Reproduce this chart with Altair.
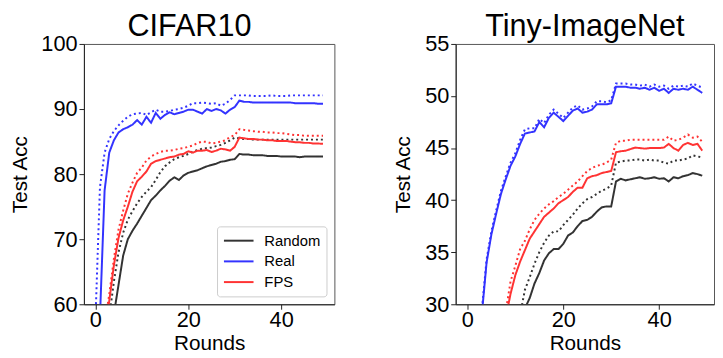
import altair as alt
import pandas as pd

rounds = list(range(50))

# CIFAR10
cifar_random = [35, 42, 48, 54, 58.5, 63.0, 67.5, 70.0, 71.3, 72.4,
                73.6, 74.8, 76.0, 76.7, 77.5, 78.2, 79.0, 79.5, 79.1, 79.8,
                80.2, 80.4, 80.6, 80.9, 81.2, 81.4, 81.6, 81.9, 82.0, 82.2,
                82.3, 83.1, 83.0, 83.0, 82.9, 82.9, 82.9, 82.8, 82.8, 82.8,
                82.7, 82.7, 82.7, 82.7, 82.6, 82.7, 82.7, 82.7, 82.7, 82.7]
cifar_random_dot = [38, 45, 52, 58.0, 63.5, 68.0, 71.0, 73.0, 74.3, 75.5,
                    76.5, 77.3, 78.0, 79.1, 80.3, 81.2, 81.8, 82.3, 82.6, 82.8,
                    83.1, 83.5, 83.7, 83.9, 84.0, 84.1, 84.3, 84.5, 84.8, 85.2,
                    85.6, 85.5, 85.4, 85.4, 85.3, 85.3, 85.3, 85.3, 85.3, 85.3,
                    85.3, 85.3, 85.3, 85.3, 85.3, 85.3, 85.3, 85.3, 85.3, 85.3]
cifar_real = [45, 58, 77.5, 83.3, 85.2, 86.4, 86.9, 87.2, 87.6, 88.3,
              87.6, 88.8, 87.9, 89.4, 88.5, 89.1, 89.5, 89.2, 89.4, 89.6,
              89.9, 89.9, 89.6, 89.3, 90.0, 89.7, 90.0, 89.8, 89.3, 89.9,
              90.3, 91.3, 91.1, 91.1, 91.0, 91.0, 91.0, 91.0, 91.0, 91.0,
              91.0, 91.0, 91.0, 90.9, 90.9, 90.9, 90.9, 90.9, 90.8, 90.8]
cifar_real_dot = [57, 78, 83.3, 85.4, 86.6, 87.5, 88.2, 88.8, 89.2, 89.3,
                  89.4, 89.1, 89.5, 89.9, 89.6, 89.6, 89.7, 89.9, 90.0, 90.2,
                  90.5, 90.9, 90.9, 91.0, 90.9, 90.8, 90.9, 90.5, 90.8, 91.4,
                  92.1, 92.1, 92.1, 92.1, 92.0, 92.0, 92.0, 92.0, 92.1, 92.0,
                  92.0, 92.0, 92.1, 92.1, 92.1, 92.1, 92.1, 92.1, 92.1, 92.1]
cifar_fps = [40, 48, 55, 60.5, 66.0, 70.2, 72.9, 75.0, 77.3, 78.9,
             79.6, 80.4, 81.6, 82.0, 82.2, 82.4, 82.6, 82.7, 83.0, 83.1,
             83.5, 83.3, 83.6, 83.6, 83.7, 83.4, 83.6, 83.9, 83.8, 83.6,
             84.2, 85.6, 85.5, 85.4, 85.4, 85.3, 85.3, 85.2, 85.2, 85.1,
             85.1, 85.1, 85.0, 84.9, 84.9, 84.8, 84.8, 84.7, 84.7, 84.65]
cifar_fps_dot = [42, 50, 57, 61.5, 67.0, 71.5, 74.4, 77.0, 78.7, 80.2,
                 81.0, 82.1, 82.7, 83.1, 83.4, 83.6, 83.6, 83.7, 83.9, 84.0,
                 84.2, 84.4, 84.8, 85.0, 84.95, 84.7, 84.8, 85.0, 85.2, 85.7,
                 86.0, 86.9, 86.8, 86.7, 86.6, 86.5, 86.5, 86.4, 86.4, 86.3,
                 86.3, 86.2, 86.1, 86.0, 86.0, 85.9, 85.9, 85.9, 85.9, 85.9]

# Tiny-ImageNet
tiny_random = [12, 14, 16, 18, 20, 22, 24, 25.5, 26.5, 27.3,
               28.0, 28.8, 29.6, 30.6, 32.0, 33.0, 34.2, 34.9, 35.3, 35.3,
               35.8, 36.6, 36.9, 37.5, 38.0, 38.1, 38.4, 38.9, 39.3, 39.4,
               39.4, 41.8, 42.05, 41.9, 42.0, 42.1, 42.2, 42.05, 42.1, 42.2,
               42.05, 42.1, 41.8, 42.2, 42.1, 42.3, 42.4, 42.6, 42.5, 42.35]
tiny_random_dot = [14, 16, 18, 20, 22, 24, 25.5, 26.5, 27.5, 28.0,
                   28.3, 29.0, 31.4, 32.6, 33.9, 35.0, 35.9, 36.6, 37.0, 37.0,
                   37.6, 38.1, 38.6, 39.2, 39.7, 40.1, 40.3, 40.6, 40.9, 41.1,
                   41.4, 43.6, 43.7, 43.8, 43.8, 43.9, 43.9, 43.8, 43.9, 43.8,
                   43.8, 43.6, 43.5, 43.8, 43.8, 43.9, 44.0, 44.3, 44.2, 44.1]
tiny_real = [20, 23, 26, 29.0, 34.0, 36.7, 38.7, 40.6, 42.0, 43.3,
             44.2, 45.4, 46.4, 46.5, 46.6, 47.5, 47.0, 47.9, 48.4, 48.0,
             47.6, 48.1, 48.6, 48.8, 48.4, 48.5, 48.7, 49.2, 49.2, 49.2,
             49.3, 50.9, 50.9, 50.9, 50.8, 50.8, 50.7, 50.8, 50.6, 50.8,
             50.5, 50.7, 50.3, 50.7, 50.6, 50.7, 50.6, 50.9, 50.6, 50.3]
tiny_real_dot = [20.3, 23.3, 26.3, 29.4, 34.3, 37.0, 39.0, 40.9, 42.3, 43.6,
                 44.5, 45.8, 46.8, 46.9, 46.9, 47.8, 47.4, 48.2, 48.7, 48.3,
                 47.9, 48.4, 48.9, 49.1, 48.7, 48.8, 49.0, 49.5, 49.5, 49.4,
                 49.6, 51.2, 51.2, 51.2, 51.1, 51.1, 51.0, 51.1, 50.9, 51.1,
                 50.9, 51.0, 50.7, 51.0, 50.9, 51.0, 50.9, 51.2, 51.0, 50.8]
tiny_fps = [15, 17, 19, 21, 23, 25, 27, 28.0, 28.7, 31.0,
            32.8, 34.1, 35.2, 36.3, 37.0, 37.7, 38.4, 38.8, 39.2, 39.7,
            40.0, 40.3, 40.8, 41.2, 41.2, 42.1, 42.3, 42.4, 42.6, 42.7,
            42.8, 44.6, 44.7, 44.75, 44.9, 45.05, 45.0, 44.95, 45.0, 45.0,
            45.0, 45.05, 45.4, 45.0, 44.75, 45.3, 45.5, 45.3, 45.4, 44.75]
tiny_fps_dot = [16, 18, 20, 22, 24, 26, 27.5, 28.5, 29.3, 32.2,
                33.7, 35.3, 36.1, 37.2, 38.1, 38.7, 39.2, 39.6, 39.9, 40.3,
                40.6, 41.0, 41.4, 41.8, 42.3, 42.8, 43.1, 43.3, 43.4, 43.6,
                43.9, 45.5, 45.7, 45.7, 45.8, 45.8, 45.8, 45.8, 45.8, 45.8,
                45.8, 45.8, 46.1, 45.7, 45.8, 46.0, 46.3, 46.0, 46.1, 45.6]

methods = ["Random", "Real", "FPS"]
colors = ["#333333", "#3333ff", "#ff3333"]

series = {
    "CIFAR10": {
        ("Random", "solid"): cifar_random, ("Random", "dotted"): cifar_random_dot,
        ("Real", "solid"): cifar_real, ("Real", "dotted"): cifar_real_dot,
        ("FPS", "solid"): cifar_fps, ("FPS", "dotted"): cifar_fps_dot,
    },
    "Tiny-ImageNet": {
        ("Random", "solid"): tiny_random, ("Random", "dotted"): tiny_random_dot,
        ("Real", "solid"): tiny_real, ("Real", "dotted"): tiny_real_dot,
        ("FPS", "solid"): tiny_fps, ("FPS", "dotted"): tiny_fps_dot,
    },
}

rows = []
for ds, d in series.items():
    for (m, v), vals in d.items():
        for r, a in zip(rounds, vals):
            rows.append({"dataset": ds, "method": m, "variant": v, "round": r, "acc": a})
df = pd.DataFrame(rows)

FONT = "Liberation Sans"


def panel(ds, ydomain, yticks, width, legend, dx):
    data = df[df["dataset"] == ds]
    return alt.Chart(data).mark_line(clip=True, strokeWidth=2).encode(
        x=alt.X("round:Q",
                scale=alt.Scale(domain=[-2.45, 51.45], nice=False, zero=False),
                axis=alt.Axis(values=[0, 20, 40], title="Rounds", grid=False,
                              labelPadding=1, titlePadding=2)),
        y=alt.Y("acc:Q",
                scale=alt.Scale(domain=ydomain, nice=False, zero=False),
                axis=alt.Axis(values=yticks, title="Test Acc", grid=False,
                              labelPadding=2, titlePadding=11)),
        color=alt.Color("method:N",
                        scale=alt.Scale(domain=methods, range=colors),
                        legend=legend),
        strokeDash=alt.StrokeDash("variant:N",
                                  scale=alt.Scale(domain=["solid", "dotted"],
                                                  range=[[1, 0], [2, 3]]),
                                  legend=None),
        detail="variant:N",
    ).properties(width=width, height=264,
                 title=alt.TitleParams(ds, fontSize=31, font=FONT,
                                       fontWeight="normal", offset=-10,
                                       frame="group", anchor="middle", dx=dx))


leg = alt.Legend(orient="bottom-right", title=None,
                 symbolType="M-1,0H3", symbolStrokeWidth=2, symbolSize=225,
                 labelFontSize=15, labelFont=FONT, strokeColor="#cccccc",
                 fillColor="white", padding=6, cornerRadius=3, offset=8,
                 rowPadding=4, labelOffset=25)

left = panel("CIFAR10", [60, 100], [60, 70, 80, 90, 100], 254, leg, -20)
right = panel("Tiny-ImageNet", [30, 55], [30, 35, 40, 45, 50, 55], 262, None, 0)

chart = alt.hconcat(left, right, spacing=58).resolve_scale(
    color="independent", strokeDash="independent"
).properties(padding={"left": 0, "top": 0, "right": 0, "bottom": 0}).configure(
    font=FONT
).configure_axis(
    labelFont=FONT, titleFont=FONT, labelFontSize=22, titleFontSize=21,
    titleFontWeight="normal", labelColor="black", titleColor="black",
    domainColor="#222222", tickColor="#222222", tickSize=5
).configure_view(stroke="#555555", strokeWidth=1)

chart.save("out.html", embed_options={"renderer": "svg", "actions": False})
